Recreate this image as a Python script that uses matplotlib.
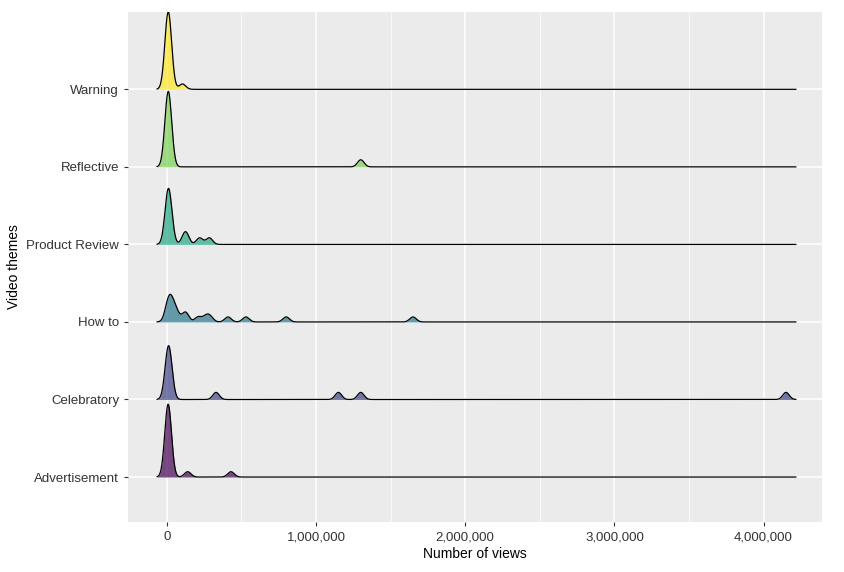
import numpy as np
import matplotlib
matplotlib.use("Agg")
import matplotlib.pyplot as plt
from matplotlib.ticker import FuncFormatter, MultipleLocator

plt.rcParams['font.family'] = ['Liberation Sans', 'DejaVu Sans']

categories = ["Advertisement", "Celebratory", "How to", "Product Review", "Reflective", "Warning"]
views = {
    "Advertisement": [2000, 4000, 6000, 8000, 10000, 12000, 14000, 5000, 7000, 9000, 3000, 11000, 15000, 18000, 140000, 430000],
    "Celebratory": [2000, 5000, 9000, 12000, 15000, 20000, 25000, 8000, 330000, 1150000, 1300000, 4150000],
    "How to": [1000, 10000, 20000, 30000, 40000, 55000, 70000, 15000, 120000, 130000, 210000, 260000, 290000, 410000, 530000, 800000, 1650000],
    "Product Review": [2000, 5000, 8000, 10000, 12000, 15000, 20000, 6000, 25000, 120000, 130000, 220000, 285000],
    "Reflective": [2000, 5000, 8000, 10000, 12000, 15000, 20000, 3000, 6000, 9000, 18000, 1300000],
    "Warning": [2000, 5000, 8000, 10000, 12000, 15000, 20000, 3000, 6000, 9000, 4000, 7000, 11000, 14000, 18000, 105000],
}
colors = ["#440154", "#414487", "#2A788E", "#22A884", "#7AD151", "#FDE725"]
bandwidth = 22000

allv = np.concatenate([views[c] for c in categories])
grid = np.linspace(allv.min() - 3 * bandwidth, allv.max() + 3 * bandwidth, 3000)

def kde(vals):
    v = np.asarray(vals, float)[:, None]
    return np.exp(-0.5 * ((grid[None, :] - v) / bandwidth) ** 2).sum(0) / (len(v) * bandwidth * np.sqrt(2 * np.pi))

dens = [kde(views[c]) for c in categories]
gmax = max(d.max() for d in dens)

fig = plt.figure(figsize=(8.44, 5.72), dpi=100)
ax = fig.add_axes([0.1517, 0.0874, 0.822, 0.892])
ax.set_facecolor("#EBEBEB")
ax.set_xlim(-260000, 4390000)
ax.set_ylim(0.42, 7.0)
ax.xaxis.set_major_locator(MultipleLocator(1000000))
ax.xaxis.set_minor_locator(MultipleLocator(500000))
ax.grid(which="major", color="white", lw=1.1)
ax.grid(which="minor", axis="x", color="white", lw=0.5)
ax.set_axisbelow(True)
for s in ax.spines.values():
    s.set_visible(False)

for i in range(len(categories) - 1, -1, -1):
    y0 = i + 1
    h = dens[i] / gmax * 1.0
    ax.fill_between(grid, y0, y0 + h, color=colors[i], alpha=0.7, lw=0, zorder=3 + (6 - i))
    ax.plot(grid, y0 + h, color="black", lw=0.9, zorder=3 + (6 - i))

ax.set_yticks(range(1, len(categories) + 1))
ax.set_yticklabels(categories)
ax.xaxis.set_major_formatter(FuncFormatter(lambda x, p: f"{int(x):,}"))
ax.tick_params(colors="#333333", labelsize=9.5, length=3, color="#333333")
ax.tick_params(which="minor", length=0)
ax.set_xlabel("Number of views", fontsize=10, labelpad=3)
ax.set_ylabel("Video themes", fontsize=10)
fig.savefig("out.png", dpi=100, facecolor="white")
